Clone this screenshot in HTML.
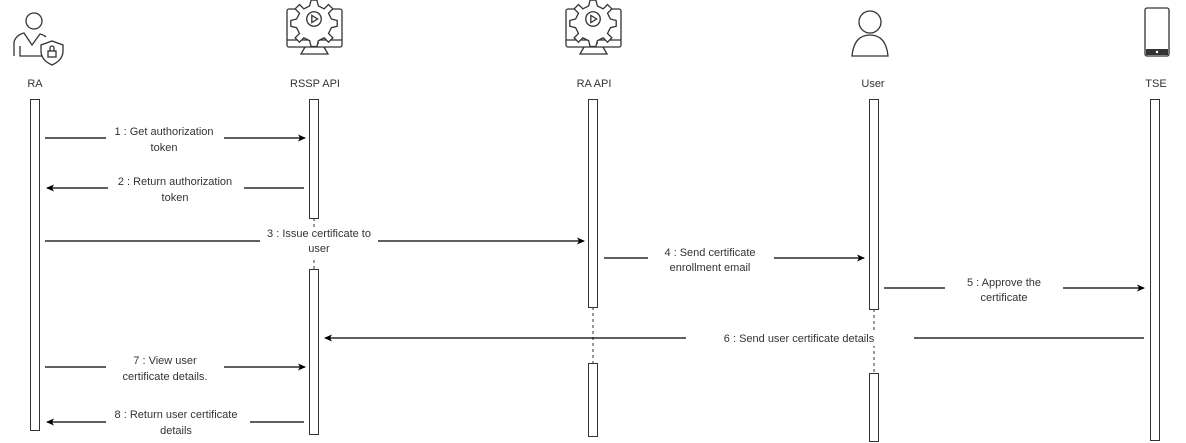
<!DOCTYPE html>
<html><head><meta charset="utf-8"><style>body{margin:0;background:#fff}svg{display:block}text{font-family:"Liberation Sans",sans-serif;font-size:11px;fill:#333}</style></head><body>
<svg width="1186" height="443" viewBox="0 0 1186 443" xmlns="http://www.w3.org/2000/svg">
<defs><marker id="a" markerWidth="8" markerHeight="8" refX="7" refY="4" orient="auto" markerUnits="userSpaceOnUse"><path d="M0,0.5 L8,4 L0,7.5 L2,4z" fill="#000"/></marker></defs>
<g fill="none" stroke="#333" stroke-width="1.3">
<!-- RA icon -->
<circle cx="34" cy="21" r="8"/>
<path d="M14,56 V42 Q16,35 24,33 L32,45 L40,34 Q44,35 46,37"/>
<path d="M20,46 V56 H42"/>
<path d="M52,41 l11,4 v6 q0,9 -11,14 q-11,-5 -11,-14 v-6z" fill="#fff"/>
<rect x="48" y="51" width="8" height="6"/><path d="M50,51 v-3 a2,2 0 0 1 4,0 v3"/>
<!-- monitors -->
<g id="m"><rect x="287" y="9" width="55" height="38" rx="2"/><path d="M287,40 H342 M310,43 h9 M305,47 l-4,7 h27 l-4,-7"/>
<g transform="translate(314,19) scale(1.45) translate(-317,-19)" fill="#fff" stroke-width="0.9">
<path d="M315,6 l4,0 1,4 4,2 3,-3 3,3 -3,3 2,4 4,1 v4 l-4,1 -2,4 3,3 -3,3 -3,-3 -4,2 -1,4 h-4 l-1,-4 -4,-2 -3,3 -3,-3 3,-3 -2,-4 -4,-1 v-4 l4,-1 2,-4 -3,-3 3,-3 3,3 4,-2z"/>
<circle cx="317" cy="19" r="5"/><path d="M315.5,16.5 v5 l4,-2.5z"/></g></g>
<use href="#m" x="279"/>
<!-- user -->
<circle cx="870" cy="22" r="11"/><path d="M852,56 Q854,35 870,35 Q886,35 888,56 Z"/>
<!-- phone -->
<rect x="1145" y="8" width="24" height="48" rx="2"/>
</g>
<rect x="1146" y="49" width="22" height="6" fill="#333"/><circle cx="1157" cy="52" r="1.2" fill="#fff"/>
<g text-anchor="middle"><text x="35" y="87">RA</text><text x="315" y="87">RSSP API</text><text x="594" y="87">RA API</text><text x="873" y="87">User</text><text x="1156" y="87">TSE</text></g>
<g stroke="#333" stroke-dasharray="3,3"><path d="M314,218 V269 M593,307 V363 M874,309 V373"/></g>
<g fill="#fff" stroke="#333"><rect x="30.5" y="99.5" width="9" height="331"/><rect x="309.5" y="99.5" width="9" height="119"/><rect x="309.5" y="269.5" width="9" height="165"/><rect x="588.5" y="99.5" width="9" height="208"/><rect x="588.5" y="363.5" width="9" height="73"/><rect x="869.5" y="99.5" width="9" height="210"/><rect x="869.5" y="373.5" width="9" height="68"/><rect x="1150.5" y="99.5" width="9" height="341"/></g>
<g stroke="#000" stroke-width="1.2" marker-end="url(#a)">
<path d="M45,138 H305"/><path d="M304,188 H47"/><path d="M45,241 H584"/><path d="M604,258 H864"/><path d="M884,288 H1144"/><path d="M1144,338 H325"/><path d="M45,367 H305"/><path d="M304,422 H47"/>
</g>
<g fill="#fff"><rect x="106" y="125" width="118" height="30"/><rect x="108" y="175" width="136" height="30"/><rect x="260" y="227" width="118" height="30"/><rect x="648" y="244" width="126" height="30"/><rect x="945" y="274" width="118" height="30"/><rect x="686" y="330" width="228" height="16"/><rect x="106" y="353" width="118" height="30"/><rect x="106" y="408" width="144" height="30"/></g>
<g text-anchor="middle">
<text x="164" y="135">1 : Get authorization</text><text x="164" y="151">token</text>
<text x="175" y="185">2 : Return  authorization</text><text x="175" y="201">token</text>
<text x="319" y="237">3 : Issue certificate to</text><text x="319" y="252">user</text>
<text x="710" y="256">4 : Send certificate</text><text x="710" y="271">enrollment email</text>
<text x="1004" y="286">5 : Approve the</text><text x="1004" y="301">certificate</text>
<text x="799" y="342">6 : Send user certificate details</text>
<text x="165" y="364">7 : View user</text><text x="165" y="380">certificate details.</text>
<text x="176" y="418">8 : Return user certificate</text><text x="176" y="434">details</text>
</g>
</svg>
</body></html>
